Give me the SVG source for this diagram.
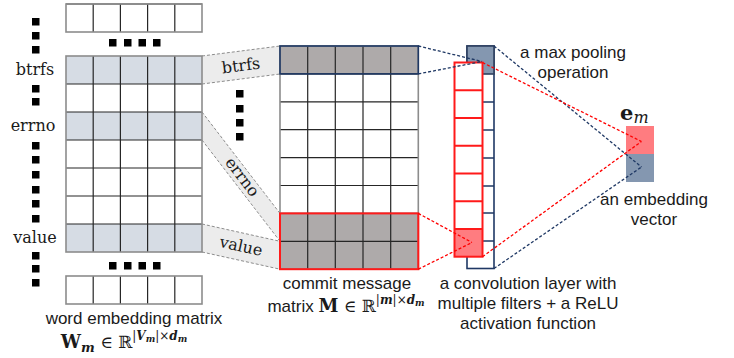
<svg xmlns="http://www.w3.org/2000/svg" width="734" height="358" viewBox="0 0 734 358">
<style>
.lbl{font-family:"Liberation Sans",Arial,sans-serif;font-size:17px;fill:#1a1a1a;text-anchor:middle}
.word{font-family:"DejaVu Serif","Liberation Serif",serif;font-size:16px;fill:#1a1a1a;text-anchor:middle}
.math{font-family:"DejaVu Serif","Liberation Serif",serif;fill:#1a1a1a}
.bi{font-weight:bold;font-style:italic}
.dot{fill:#000}
.grid{stroke:#262626;stroke-width:1.2;fill:none}
.outer{stroke:#8c8c8c;stroke-width:1.6;fill:none}
.hl{fill:#d6dce4}
.gr{fill:#aeaaaa}
.rib{fill:#ececec}
.ribedge{stroke:#8c8c8c;stroke-width:1;stroke-dasharray:3 2;fill:none}
.bd{stroke:#1f3864;stroke-width:1.3;stroke-dasharray:3 2;fill:none}
.rd{stroke:#ff0000;stroke-width:1.3;stroke-dasharray:3 2;fill:none}
.navy{stroke:#1f3864;stroke-width:1.6;fill:none}
.red{stroke:#ff1a1a;stroke-width:2;fill:none}
</style>
<defs>
<rect id="d" width="7.5" height="7.5" class="dot"/>
</defs>

<g id="connectors">
<polygon class="rib" points="202,56 280,46 280,74 202,84"/>
<path class="ribedge" d="M202,56 L280,46 M202,84 L280,74"/>
<polygon class="rib" points="202,112 280,213.4 280,241.3 202,140"/>
<path class="ribedge" d="M202,112 L280,213.4 M202,140 L280,241.3"/>
<polygon class="rib" points="202,224 280,241.3 280,269.2 202,252"/>
<path class="ribedge" d="M202,224 L280,241.3 M202,252 L280,269.2"/>
<text class="word" transform="translate(241,66) rotate(-7.3)" y="5">btrfs</text>
<text class="word" transform="translate(242,177) rotate(52.3)" y="5">errno</text>
<text class="word" transform="translate(241,246.5) rotate(12.3)" y="5">value</text>
</g>

<g id="word-matrix">
<g id="word-dots">
<use href="#d" x="32" y="18"/><use href="#d" x="32" y="32"/><use href="#d" x="32" y="46"/>
<use href="#d" x="32" y="85"/><use href="#d" x="32" y="98"/>
<use href="#d" x="32" y="142"/><use href="#d" x="32" y="156"/><use href="#d" x="32" y="171"/><use href="#d" x="32" y="186"/><use href="#d" x="32" y="200"/><use href="#d" x="32" y="215"/>
<use href="#d" x="32" y="252"/><use href="#d" x="32" y="265"/><use href="#d" x="32" y="279"/>
<use href="#d" x="109" y="39"/><use href="#d" x="124" y="39"/><use href="#d" x="138.5" y="39"/><use href="#d" x="153" y="39"/>
<use href="#d" x="109" y="262"/><use href="#d" x="124" y="262"/><use href="#d" x="138.5" y="262"/><use href="#d" x="153" y="262"/>
</g>
<text class="word" x="35" y="75">btrfs</text>
<text class="word" x="33" y="131">errno</text>
<text class="word" x="35" y="243">value</text>
<rect class="hl" x="66" y="56" width="136" height="28"/>
<rect class="hl" x="66" y="112" width="136" height="28"/>
<rect class="hl" x="66" y="224" width="136" height="28"/>
<path class="grid" d="M93.2,4V32M120.4,4V32M147.6,4V32M174.8,4V32M66,4H202
M93.2,56V252M120.4,56V252M147.6,56V252M174.8,56V252
M66,84H202M66,112H202M66,140H202M66,168H202M66,196H202M66,224H202
M93.2,276V304M120.4,276V304M147.6,276V304M174.8,276V304"/>
<rect class="outer" x="66" y="4" width="136" height="28"/>
<rect class="outer" x="66" y="56" width="136" height="196"/>
<rect class="outer" x="66" y="276" width="136" height="28"/>
<text class="lbl" x="134" y="324">word embedding matrix</text>
<text class="math" x="124" y="348" text-anchor="middle"><tspan font-weight="bold" font-size="18">W</tspan><tspan class="bi" font-size="13" dy="4">m</tspan><tspan font-size="17" dy="-4"> ∈ ℝ</tspan><tspan font-size="12" dy="-8">|</tspan><tspan class="bi" font-size="12">V</tspan><tspan class="bi" font-size="9" dy="2">m</tspan><tspan font-size="12" dy="-2">|×</tspan><tspan class="bi" font-size="12">d</tspan><tspan class="bi" font-size="9" dy="2">m</tspan></text>
</g>

<g id="commit-matrix">
<use href="#d" x="236" y="90"/><use href="#d" x="236" y="105"/><use href="#d" x="236" y="119"/><use href="#d" x="236" y="133"/>
<rect class="gr" x="280" y="46" width="138.3" height="27.9"/>
<rect class="gr" x="280" y="213.4" width="138.3" height="55.8"/>
<path class="grid" d="M307.7,46V269.2M335.3,46V269.2M363,46V269.2M390.7,46V269.2
M280,73.9H418.3M280,101.8H418.3M280,129.7H418.3M280,157.6H418.3M280,185.5H418.3M280,213.4H418.3M280,241.3H418.3"/>
<rect class="outer" x="280" y="46" width="138.3" height="223.2"/>
<rect class="navy" x="280" y="46" width="138.3" height="27.9" stroke-width="2"/>
<rect class="red" x="280" y="213.4" width="138.3" height="55.8"/>
<text class="lbl" x="347" y="289">commit message</text>
<text class="math" x="346" y="312" text-anchor="middle"><tspan font-family="Liberation Sans,Arial,sans-serif" font-size="17">matrix </tspan><tspan font-weight="bold" font-size="18">M</tspan><tspan font-size="17"> ∈ ℝ</tspan><tspan font-size="12" dy="-8">|</tspan><tspan class="bi" font-size="12">m</tspan><tspan font-size="12">|×</tspan><tspan class="bi" font-size="12">d</tspan><tspan class="bi" font-size="9" dy="2">m</tspan></text>
</g>

<g id="conv-layer">
<rect x="467" y="46" width="27" height="222.5" fill="#fff" class="navy"/>
<path class="navy" stroke-width="1.4" d="M467,102H494M467,130H494M467,158H494M467,186H494M467,213H494M467,241H494"/>
<rect id="max-pool" x="467" y="46" width="27" height="28" fill="#8497b0" stroke="#2f4060" stroke-width="1.6"/>
<rect x="454.5" y="62.5" width="28" height="194.2" fill="#fff"/>
<rect x="454.5" y="229" width="28" height="27.7" fill="#ff7c80"/>
<path class="red" d="M454.5,90.2H482.5M454.5,118H482.5M454.5,145.7H482.5M454.5,173.5H482.5M454.5,201.2H482.5M454.5,229H482.5"/>
<rect class="red" x="454.5" y="62.5" width="28" height="194.2"/>
<text class="lbl" x="573" y="58">a max pooling</text>
<text class="lbl" x="573" y="78">operation</text>
<text class="lbl" x="528" y="289">a convolution layer with</text>
<text class="lbl" x="528" y="309">multiple filters + a ReLU</text>
<text class="lbl" x="528" y="329">activation function</text>
</g>

<g id="embedding-vector">
<rect x="626" y="126" width="28" height="28" fill="#ff7c80"/>
<rect x="626" y="154" width="28" height="28" fill="#8497b0"/>
<text class="math" x="620" y="120"><tspan font-weight="bold" font-size="21">e</tspan><tspan font-style="italic" font-size="16" dy="3">m</tspan></text>
<text class="lbl" x="654" y="205">an embedding</text>
<text class="lbl" x="654" y="225">vector</text>
</g>

<g id="dashed-connectors">
<path class="bd" d="M418.3,46L482,61.5M418.3,73.9L482,61.5"/>
<path class="rd" d="M418.3,213.4L472,242.5M418.3,269.2L472,242.5"/>
<path class="bd" d="M494,46L641.5,167M494,268.5L641.5,167"/>
<path class="rd" d="M482.5,62.5L641.5,141.5M482.5,256.7L641.5,141.5"/>
</g>
</svg>
